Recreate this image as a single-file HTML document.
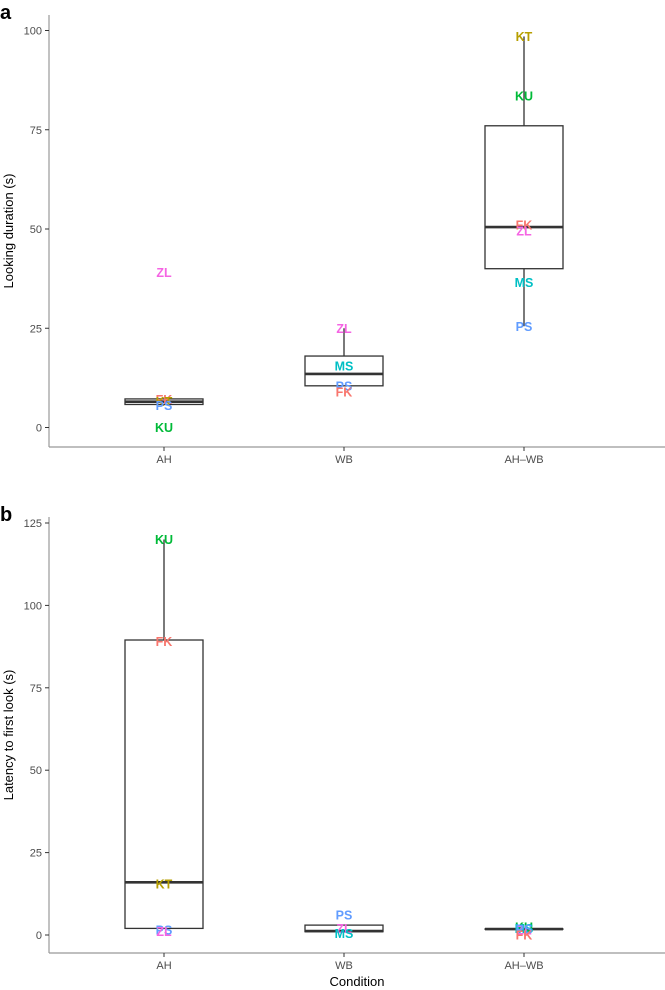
<!DOCTYPE html>
<html><head><meta charset="utf-8"><style>
body{margin:0;background:#fff;width:665px;height:990px;overflow:hidden;font-family:"Liberation Sans",sans-serif}
svg{display:block}
</style></head><body>
<svg id="chart" width="665" height="990" xmlns="http://www.w3.org/2000/svg"></svg>
<script>
const categories=["AH","WB","AH\u2013WB"];
const colors={FK:"#F8766D",KT:"#B79F00",KU:"#00BA38",MS:"#00BFC4",PS:"#619CFF",ZL:"#F564E3"};
// panel a: looking duration
const aTicks=[0,25,50,75,100];
const aBoxes=[[5.8,5.8,6.5,7.2,7.2],[10.5,10.5,13.5,18,25],[25.5,40,50.5,76,98.5]];
const aPoints=[
 [["ZL",39],["FK",7],["KT",6.5],["PS",5.5],["KU",0]],
 [["ZL",25],["MS",15.5],["PS",10.5],["FK",9]],
 [["KT",98.5],["KU",83.5],["FK",51],["ZL",49.5],["MS",36.5],["PS",25.5]]];
// panel b: latency
const bTicks=[0,25,50,75,100,125];
const bBoxes=[[2,2,16,89.5,120],[1,1,1.2,3,3],[1.8,1.8,1.8,1.8,1.8]];
const bPoints=[
 [["KU",120],["FK",89],["KT",15.5],["PS",1.5],["ZL",1]],
 [["PS",6],["ZL",2],["MS",0.5]],
 [["KU",2.5],["MS",2],["ZL",1.5],["PS",1.8],["FK",0]]];

const svg=document.getElementById('chart');
const NS="http://www.w3.org/2000/svg";
function mk(tag,attrs,parent){const e=document.createElementNS(NS,tag);for(const k in attrs)e.setAttribute(k,attrs[k]);(parent||svg).appendChild(e);return e;}
const xPos=i=>164+i*180;

function panel(letter,ticks,boxes,points,y0px,scale,axisY,topY,ytitle,showXTitle){
  const y=v=>y0px-v*scale;
  const g=mk('g',{});
  
  
  const lt=mk('text',{x:0,y:topY+4,'font-size':20,'font-weight':'bold',fill:'#000'},g);lt.textContent=letter;
  
  
  const ya=mk('line',{x1:49,x2:49,y1:topY,y2:axisY,stroke:'#999','stroke-width':1.2},g);
  
  
  const xa=mk('line',{x1:49,x2:665,y1:axisY,y2:axisY,stroke:'#999','stroke-width':1.2},g);
  
  
  ticks.forEach(t=>{
    mk('line',{x1:45,x2:49,y1:y(t),y2:y(t),stroke:'#333'},g);
    const tx=mk('text',{x:42,y:y(t)+4,'font-size':11,'text-anchor':'end',fill:'#4d4d4d'},g);tx.textContent=t;
    
    
  });
  categories.forEach((c,i)=>{
    mk('line',{x1:xPos(i),x2:xPos(i),y1:axisY,y2:axisY+4,stroke:'#333'},g);
    const tx=mk('text',{x:xPos(i),y:axisY+16,'font-size':11,'text-anchor':'middle',fill:'#4d4d4d'},g);tx.textContent=c;
    
    
  });
  const yt=mk('text',{x:0,y:0,'font-size':13,'text-anchor':'middle',fill:'#000',transform:`translate(13,${(topY+axisY)/2}) rotate(-90)`},g);yt.textContent=ytitle;
  
  
  if(showXTitle){const xt=mk('text',{x:357,y:axisY+33,'font-size':13,'text-anchor':'middle',fill:'#000'},g);xt.textContent='Condition';
    
    }
  boxes.forEach((b,i)=>{
    const cx=xPos(i),w=39;
    const bg=mk('g',{},g);
    
    
    mk('line',{x1:cx,x2:cx,y1:y(b[0]),y2:y(b[1]),stroke:'#333','stroke-width':1.3},bg);
    mk('line',{x1:cx,x2:cx,y1:y(b[3]),y2:y(b[4]),stroke:'#333','stroke-width':1.3},bg);
    mk('rect',{x:cx-w,y:y(b[3]),width:2*w,height:Math.max(y(b[1])-y(b[3]),0.01),fill:'#fff',stroke:'#333','stroke-width':1.3},bg);
    mk('line',{x1:cx-w,x2:cx+w,y1:y(b[2]),y2:y(b[2]),stroke:'#333','stroke-width':2.6},bg);
  });
  points.forEach((ps,i)=>ps.forEach(([n,v])=>{
    const t=mk('text',{x:xPos(i),y:y(v)+4.5,'font-size':12.5,'font-weight':'bold','text-anchor':'middle',fill:colors[n]},g);t.textContent=n;
    
    
  }));
}
panel('a',aTicks,aBoxes,aPoints,427.5,3.97,447,15,'Looking duration (s)',false);
panel('b',bTicks,bBoxes,bPoints,935,3.296,953,517,'Latency to first look (s)',true);
</script>
</body></html>
